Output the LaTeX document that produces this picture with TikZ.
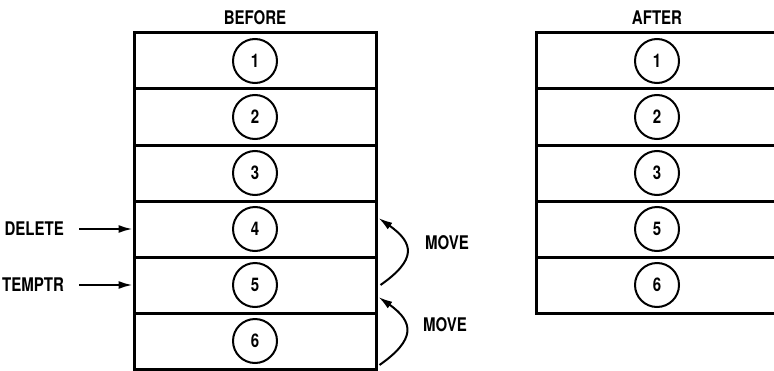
\documentclass[tikz,border=0pt]{standalone}
\usepackage{fontspec}
\setmainfont{TeX Gyre Heros}[FakeStretch=0.8]
\usetikzlibrary{arrows.meta,calc}
\tikzset{
  row/.style={draw,line width=1.5pt,minimum width=121pt,minimum height=28pt,inner sep=0pt},
  num/.style={draw,circle,line width=1pt,minimum size=22pt,inner sep=0pt},
  >={Latex[length=7pt,width=4pt]},
}

\begin{document}
\begin{tikzpicture}[
  x=0.5pt, y=0.5pt,
  every node/.style={font=\bfseries\fontsize{9.4}{10}\selectfont},
  ptr/.style={->,line width=1pt,shorten <=4pt},
  move/.style={->,line width=1pt}
]
\useasboundingbox (0,0) rectangle (774,370);
\clip (0,0) rectangle (774,370);

% before
\node (before) at (255,352) {BEFORE};
\node[row] (b1) at (255,309) {};
\node[row] (b2) at (255,253) {};
\node[row] (b3) at (255,197) {};
\node[row] (b4) at (255,141) {};
\node[row] (b5) at (255,85) {};
\node[row] (b6) at (255,29) {};
\node[num] (c1) at (b1) {1};
\node[num] (c2) at (b2) {2};
\node[num] (c3) at (b3) {3};
\node[num] (c4) at (b4) {4};
\node[num] (c5) at (b5) {5};
\node[num] (c6) at (b6) {6};

% after
\node (after) at (657,352) {AFTER};
\node[row] (a1) at (657,309) {};
\node[row] (a2) at (657,253) {};
\node[row] (a3) at (657,197) {};
\node[row] (a4) at (657,141) {};
\node[row] (a5) at (657,85) {};
\node[num] (d1) at (a1) {1};
\node[num] (d2) at (a2) {2};
\node[num] (d3) at (a3) {3};
\node[num] (d4) at (a4) {5};
\node[num] (d5) at (a5) {6};

% pointers
\node[anchor=east] (del) at (71,141) {DELETE};
\node[anchor=east] (tmp) at (71,85) {TEMPTR};
\draw[ptr] (del.east) -- (b4.west);
\draw[ptr] (tmp.east) -- (b5.west);

% moves
\coordinate (m1s) at ($(b5.east)+(3,0)$);
\coordinate (m1e) at ($(b4.east)+(1,11)$);
\coordinate (m2s) at ($(b6.east)+(2,-24)$);
\coordinate (m2e) at ($(b5.east)+(1,-12)$);
\draw[move] (m1s) .. controls +(35:44) and +(-35:44) .. (m1e);
\draw[move] (m2s) .. controls +(35:44) and +(-35:44) .. (m2e);
\node[anchor=west] (mv1) at (418,127) {MOVE};
\node[anchor=west] (mv2) at (416,45) {MOVE};
\end{tikzpicture}
\end{document}
